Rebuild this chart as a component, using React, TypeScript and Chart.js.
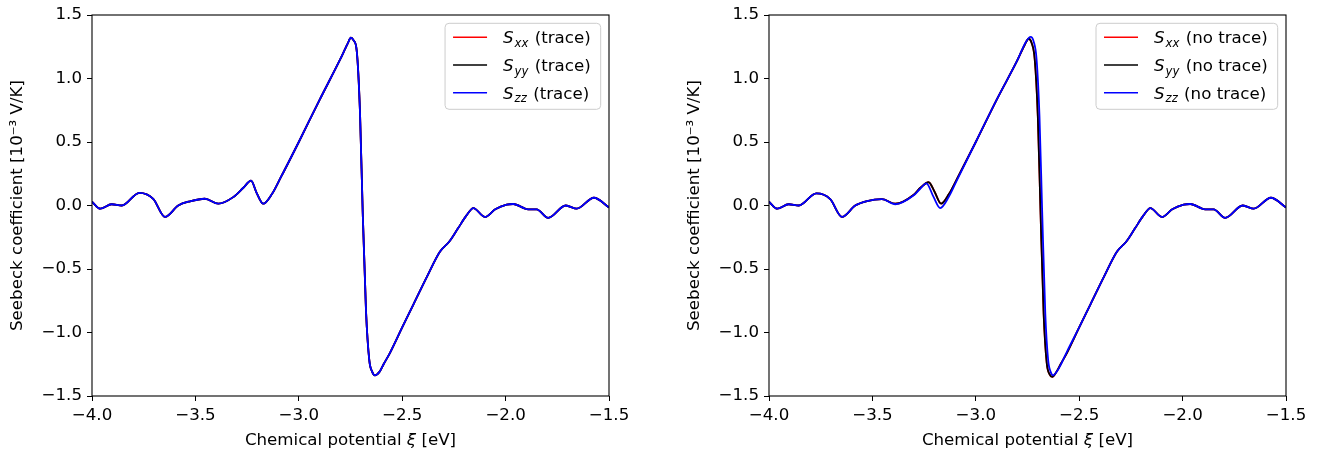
import React, { useEffect, useRef } from 'react';
import { Chart, registerables } from 'chart.js';

Chart.register(...registerables);

// ---------- data ----------
const LEFT_XI = [-4.0, -3.96, -3.905, -3.856, -3.771, -3.704, -3.647, -3.583, -3.526, -3.454, -3.389, -3.317, -3.268, -3.231, -3.204, -3.172, -3.13, -3.091, -3.0, -2.9, -2.8, -2.765, -2.748, -2.735, -2.72, -2.704, -2.691, -2.675, -2.659, -2.645, -2.632, -2.61, -2.59, -2.559, -2.5, -2.446, -2.38, -2.317, -2.272, -2.23, -2.19, -2.156, -2.1, -2.05, -1.995, -1.963, -1.891, -1.85, -1.794, -1.709, -1.656, -1.573, -1.5];
const LEFT_SXX = [0.03, -0.025, 0.01, 0.0, 0.1, 0.053, -0.09, 0.0, 0.033, 0.053, 0.014, 0.066, 0.14, 0.196, 0.1, 0.014, 0.09, 0.209, 0.5, 0.83, 1.15, 1.27, 1.321, 1.3, 1.22, 0.73, -0.05, -0.83, -1.22, -1.31, -1.337, -1.31, -1.25, -1.16, -0.96, -0.78, -0.56, -0.362, -0.284, -0.18, -0.08, -0.02, -0.09, -0.03, 0.006, 0.012, -0.03, -0.03, -0.097, 0.0, -0.025, 0.061, -0.015];
const LEFT_SYY = [0.03, -0.025, 0.01, 0.0, 0.1, 0.053, -0.09, 0.0, 0.033, 0.053, 0.014, 0.066, 0.14, 0.196, 0.1, 0.014, 0.09, 0.209, 0.5, 0.83, 1.15, 1.27, 1.321, 1.3, 1.22, 0.73, -0.05, -0.83, -1.22, -1.31, -1.337, -1.31, -1.25, -1.16, -0.96, -0.78, -0.56, -0.362, -0.284, -0.18, -0.08, -0.02, -0.09, -0.03, 0.006, 0.012, -0.03, -0.03, -0.097, 0.0, -0.025, 0.061, -0.015];
const LEFT_SZZ = [0.03, -0.025, 0.01, 0.0, 0.1, 0.053, -0.09, 0.0, 0.033, 0.053, 0.014, 0.066, 0.14, 0.196, 0.1, 0.014, 0.09, 0.209, 0.5, 0.83, 1.15, 1.27, 1.321, 1.3, 1.22, 0.73, -0.05, -0.83, -1.22, -1.31, -1.337, -1.31, -1.25, -1.16, -0.96, -0.78, -0.56, -0.362, -0.284, -0.18, -0.08, -0.02, -0.09, -0.03, 0.006, 0.012, -0.03, -0.03, -0.097, 0.0, -0.025, 0.061, -0.015];

const RIGHT_XI_XY = [-4.0, -3.96, -3.905, -3.856, -3.771, -3.704, -3.647, -3.583, -3.526, -3.454, -3.389, -3.3, -3.268, -3.228, -3.2, -3.168, -3.13, -3.091, -3.0, -2.9, -2.8, -2.765, -2.744, -2.73, -2.715, -2.7, -2.687, -2.672, -2.657, -2.643, -2.63, -2.61, -2.59, -2.559, -2.5, -2.446, -2.38, -2.317, -2.272, -2.23, -2.19, -2.156, -2.1, -2.05, -1.995, -1.963, -1.891, -1.85, -1.794, -1.709, -1.656, -1.573, -1.5];
const RIGHT_SXX = [0.03, -0.025, 0.01, 0.0, 0.095, 0.05, -0.09, 0.0, 0.035, 0.05, 0.014, 0.085, 0.14, 0.183, 0.11, 0.014, 0.09, 0.21, 0.5, 0.83, 1.14, 1.26, 1.313, 1.28, 1.15, 0.7, -0.05, -0.85, -1.24, -1.33, -1.35, -1.31, -1.25, -1.16, -0.96, -0.78, -0.56, -0.362, -0.284, -0.18, -0.08, -0.02, -0.09, -0.03, 0.006, 0.012, -0.03, -0.03, -0.097, 0.0, -0.025, 0.061, -0.015];
const RIGHT_SYY = [0.03, -0.025, 0.01, 0.0, 0.095, 0.05, -0.09, 0.0, 0.035, 0.05, 0.014, 0.085, 0.14, 0.183, 0.11, 0.014, 0.09, 0.21, 0.5, 0.83, 1.14, 1.26, 1.313, 1.28, 1.15, 0.7, -0.05, -0.85, -1.24, -1.33, -1.35, -1.31, -1.25, -1.16, -0.96, -0.78, -0.56, -0.362, -0.284, -0.18, -0.08, -0.02, -0.09, -0.03, 0.006, 0.012, -0.03, -0.03, -0.097, 0.0, -0.025, 0.061, -0.015];
const RIGHT_XI_ZZ = [-4.0, -3.96, -3.905, -3.856, -3.771, -3.704, -3.647, -3.583, -3.526, -3.454, -3.389, -3.3, -3.27, -3.239, -3.205, -3.172, -3.13, -3.091, -3.0, -2.9, -2.8, -2.757, -2.735, -2.72, -2.706, -2.692, -2.679, -2.664, -2.65, -2.638, -2.626, -2.605, -2.585, -2.559, -2.5, -2.446, -2.38, -2.317, -2.272, -2.23, -2.19, -2.156, -2.1, -2.05, -1.995, -1.963, -1.891, -1.85, -1.794, -1.709, -1.656, -1.573, -1.5];
const RIGHT_SZZ = [0.03, -0.025, 0.01, 0.0, 0.095, 0.05, -0.09, 0.0, 0.035, 0.05, 0.01, 0.08, 0.13, 0.175, 0.07, -0.02, 0.07, 0.2, 0.5, 0.83, 1.14, 1.29, 1.327, 1.29, 1.15, 0.7, -0.05, -0.85, -1.22, -1.31, -1.337, -1.3, -1.24, -1.15, -0.96, -0.78, -0.56, -0.362, -0.284, -0.18, -0.08, -0.02, -0.09, -0.03, 0.006, 0.012, -0.03, -0.03, -0.097, 0.0, -0.025, 0.061, -0.015];

const SUBSCRIPTS = ['xx', 'yy', 'zz'];
const COLORS = ['#ff0000', '#000000', '#0000ff'];
const X_MIN = -4.0, X_MAX = -1.5, X_STEP = 0.5;
const Y_MIN = -1.5, Y_MAX = 1.5, Y_STEP = 0.5;
const X_TITLE_PARTS = ['Chemical potential ', 'ξ', ' [eV]'];
const Y_TITLE = 'Seebeck coefficient [10⁻³ V/K]';

// ---------- styling ----------
const FAMILY = "'DejaVu Sans'";
const FS = 16.67;
const CANVAS_W = 655;
const CANVAS_H = 461;

const fmt = (v: number) => v.toFixed(1).replace('-', '\u2212');

function toPts(xs: number[], ys: number[]) {
  return xs.map((x, i) => ({ x, y: ys[i] }));
}

function makePlugin(suffix: string) {
  return {
    id: 'mplDecor',
    afterDatasetsDraw(chart: any) {
      const ctx = chart.ctx as CanvasRenderingContext2D;
      const a = chart.chartArea;
      ctx.save();
      ctx.strokeStyle = '#000';
      ctx.lineWidth = 1.1;
      ctx.strokeRect(a.left, a.top, a.right - a.left, a.bottom - a.top);
      ctx.restore();
    },
    afterDraw(chart: any) {
      const ctx = chart.ctx as CanvasRenderingContext2D;
      const a = chart.chartArea;
      const subFs = FS * 0.7;
      ctx.save();
      // x-axis title with italic xi
      {
        const fonts = [`${FS}px ${FAMILY}`, `italic ${FS}px ${FAMILY}`, `${FS}px ${FAMILY}`];
        const ws = X_TITLE_PARTS.map((t, i) => { ctx.font = fonts[i]; return ctx.measureText(t).width; });
        const total = ws.reduce((p, c) => p + c, 0);
        let x = (a.left + a.right) / 2 - total / 2;
        ctx.fillStyle = '#000';
        ctx.textBaseline = 'middle';
        ctx.textAlign = 'left';
        X_TITLE_PARTS.forEach((t, i) => {
          ctx.font = fonts[i];
          ctx.fillText(t, x, 441);
          x += ws[i];
        });
      }
      // legend
      let maxW = 0;
      const widths = SUBSCRIPTS.map((s) => {
        ctx.font = `italic ${FS}px ${FAMILY}`;
        const w1 = ctx.measureText('S').width + 1;
        ctx.font = `italic ${subFs}px ${FAMILY}`;
        const w2 = ctx.measureText(s).width + 1;
        ctx.font = `${FS}px ${FAMILY}`;
        const w3 = ctx.measureText(suffix).width;
        const w = w1 + w2 + w3;
        maxW = Math.max(maxW, w);
        return [w1, w2, w3];
      });
      const boxW = 58 + maxW + 10;
      const boxH = 86;
      const right = a.right - 8.3;
      const top = a.top + 8.3;
      const left = right - boxW;
      const r = 4;
      ctx.beginPath();
      ctx.moveTo(left + r, top);
      ctx.lineTo(right - r, top);
      ctx.quadraticCurveTo(right, top, right, top + r);
      ctx.lineTo(right, top + boxH - r);
      ctx.quadraticCurveTo(right, top + boxH, right - r, top + boxH);
      ctx.lineTo(left + r, top + boxH);
      ctx.quadraticCurveTo(left, top + boxH, left, top + boxH - r);
      ctx.lineTo(left, top + r);
      ctx.quadraticCurveTo(left, top, left + r, top);
      ctx.closePath();
      ctx.fillStyle = 'rgba(255,255,255,0.8)';
      ctx.fill();
      ctx.strokeStyle = '#cccccc';
      ctx.lineWidth = 1;
      ctx.stroke();
      SUBSCRIPTS.forEach((s, i) => {
        const cy = top + 14 + i * 27.7;
        ctx.strokeStyle = COLORS[i];
        ctx.lineWidth = 1.5;
        ctx.beginPath();
        ctx.moveTo(left + 8, cy);
        ctx.lineTo(left + 42, cy);
        ctx.stroke();
        const base = cy + 6;
        let x = left + 58;
        ctx.fillStyle = '#000';
        ctx.textBaseline = 'alphabetic';
        ctx.textAlign = 'left';
        ctx.font = `italic ${FS}px ${FAMILY}`;
        ctx.fillText('S', x, base);
        x += widths[i][0];
        ctx.font = `italic ${subFs}px ${FAMILY}`;
        ctx.fillText(s, x, base + 3.5);
        x += widths[i][1];
        ctx.font = `${FS}px ${FAMILY}`;
        ctx.fillText(suffix, x, base);
      });
      ctx.restore();
    },
  };
}

function makeConfig(series: { xs: number[]; ys: number[] }[], suffix: string): any {
  const font = { family: FAMILY, size: FS };
  const datasets = series.map((s, i) => ({
    label: 'S' + SUBSCRIPTS[i] + suffix,
    data: toPts(s.xs, s.ys),
    borderColor: COLORS[i],
    backgroundColor: COLORS[i],
    borderWidth: 1.8,
    showLine: true,
    pointRadius: 0,
    cubicInterpolationMode: 'monotone',
    fill: false,
    order: 3 - i,
  }));
  return {
    type: 'scatter',
    data: { datasets },
    options: {
      responsive: false,
      animation: false,
      devicePixelRatio: 1,
      layout: { padding: { top: 11, right: 46, left: 0, bottom: 0 } },
      plugins: { legend: { display: false }, tooltip: { enabled: false } },
      scales: {
        x: {
          type: 'linear',
          min: X_MIN,
          max: X_MAX,
          ticks: {
            stepSize: X_STEP,
            callback: (v: number) => fmt(v),
            maxRotation: 0,
            autoSkip: false,
            padding: 5,
            color: '#000',
            font,
          },
          grid: { drawOnChartArea: false, drawTicks: true, tickLength: 5, color: '#000', tickColor: '#000', tickWidth: 1 },
          border: { display: false },
          title: { display: false },
          afterFit: (s: any) => { s.height = 65; },
        },
        y: {
          type: 'linear',
          min: Y_MIN,
          max: Y_MAX,
          ticks: {
            stepSize: Y_STEP,
            callback: (v: number) => fmt(v),
            padding: 5,
            color: '#000',
            font,
          },
          grid: { drawOnChartArea: false, drawTicks: true, tickLength: 5, color: '#000', tickColor: '#000', tickWidth: 1 },
          border: { display: false },
          title: { display: true, text: Y_TITLE, color: '#000', font, padding: { top: 8, bottom: 0 } },
          afterFit: (s: any) => { s.width = 92; },
        },
      },
    },
    plugins: [makePlugin(suffix)],
  };
}

function Panel(props: { left: number; series: { xs: number[]; ys: number[] }[]; suffix: string }) {
  const ref = useRef<HTMLCanvasElement>(null);
  useEffect(() => {
    if (!ref.current) return;
    const chart = new Chart(ref.current, makeConfig(props.series, props.suffix));
    return () => chart.destroy();
  }, []);
  return (
    <canvas
      ref={ref}
      width={CANVAS_W}
      height={CANVAS_H}
      style={{ position: 'absolute', left: props.left, top: 0, width: CANVAS_W, height: CANVAS_H }}
    />
  );
}

export default function App() {
  return (
    <div style={{ position: 'fixed', left: 0, top: 0, width: 1331, height: 461, background: '#fff' }}>
      <Panel
        left={0}
        suffix=" (trace)"
        series={[
          { xs: LEFT_XI, ys: LEFT_SXX },
          { xs: LEFT_XI, ys: LEFT_SYY },
          { xs: LEFT_XI, ys: LEFT_SZZ },
        ]}
      />
      <Panel
        left={677}
        suffix=" (no trace)"
        series={[
          { xs: RIGHT_XI_XY, ys: RIGHT_SXX },
          { xs: RIGHT_XI_XY, ys: RIGHT_SYY },
          { xs: RIGHT_XI_ZZ, ys: RIGHT_SZZ },
        ]}
      />
    </div>
  );
}
